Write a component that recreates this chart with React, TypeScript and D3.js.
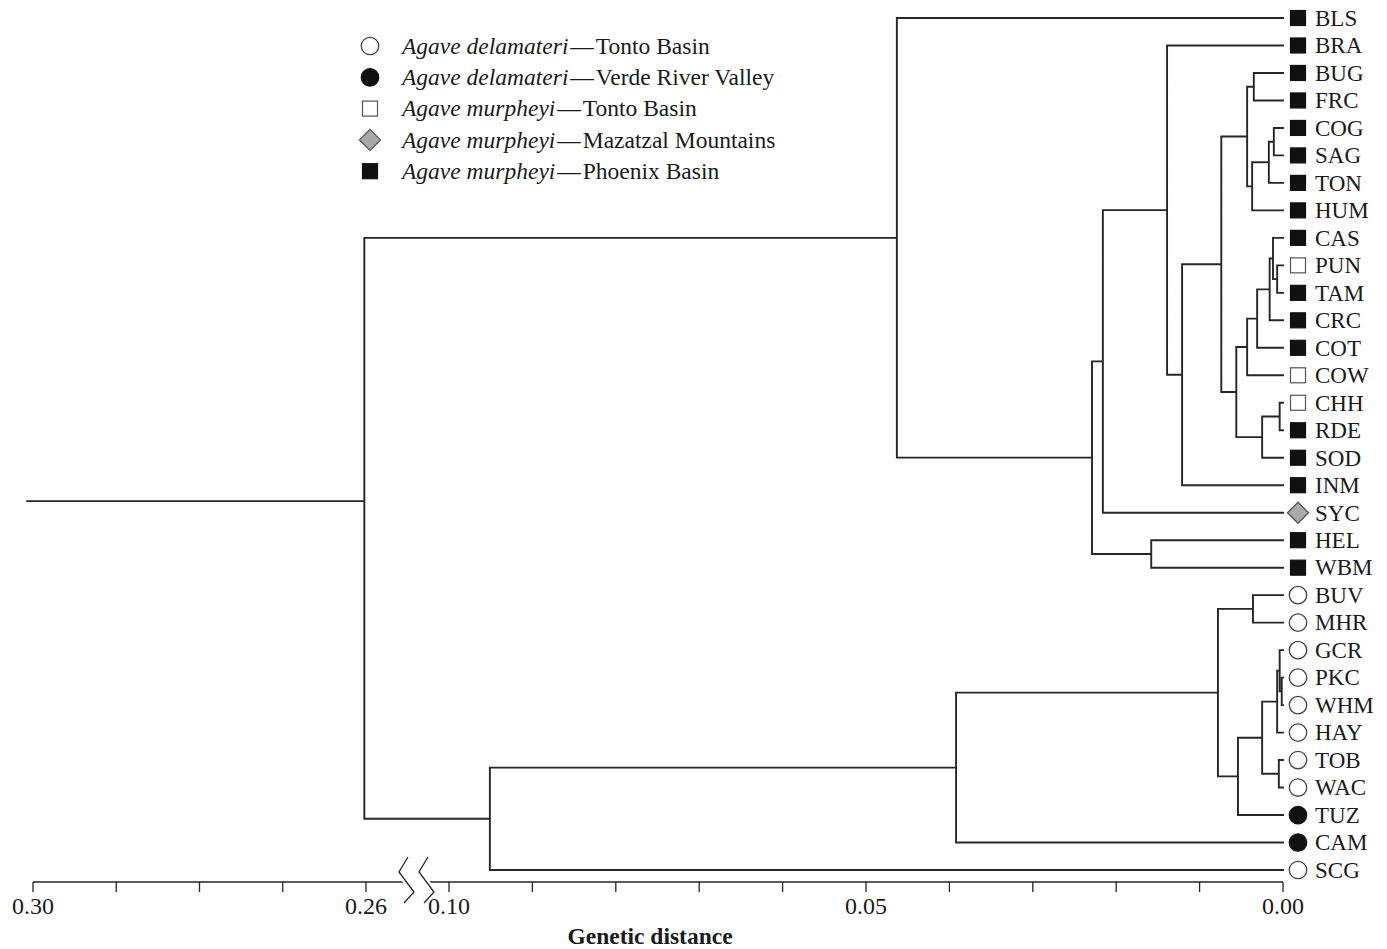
import React from 'react'
import * as d3 from 'd3'

// leaves, top to bottom, with their population group
const leaves = ['BLS', 'BRA', 'BUG', 'FRC', 'COG', 'SAG', 'TON', 'HUM', 'CAS', 'PUN', 'TAM', 'CRC', 'COT', 'COW', 'CHH', 'RDE', 'SOD', 'INM', 'SYC', 'HEL', 'WBM', 'BUV', 'MHR', 'GCR', 'PKC', 'WHM', 'HAY', 'TOB', 'WAC', 'TUZ', 'CAM', 'SCG']
const groups = ['mp', 'mp', 'mp', 'mp', 'mp', 'mp', 'mp', 'mp', 'mp', 'mt', 'mp', 'mp', 'mp', 'mt', 'mt', 'mp', 'mp', 'mp', 'mm', 'mp', 'mp', 'dt', 'dt', 'dt', 'dt', 'dt', 'dt', 'dt', 'dt', 'dv', 'dv', 'dt']

// linkage table: [id, left child, right child, genetic distance]
const merges: [string, string, string, number][] = [
  ['m1', 'COG', 'SAG', 0.0011],
  ['m2', 'm1', 'TON', 0.0017],
  ['m3', 'm2', 'HUM', 0.0037],
  ['m4', 'BUG', 'FRC', 0.0035],
  ['m5', 'm4', 'm3', 0.0043],
  ['m6', 'PUN', 'TAM', 0.0007],
  ['m7', 'CAS', 'm6', 0.0012],
  ['m8', 'm7', 'CRC', 0.0016],
  ['m9', 'm8', 'COT', 0.0031],
  ['m10', 'm9', 'COW', 0.0043],
  ['m11', 'CHH', 'RDE', 0.0004],
  ['m12', 'm11', 'SOD', 0.0025],
  ['m13', 'm10', 'm12', 0.0056],
  ['m14', 'm5', 'm13', 0.0074],
  ['m15', 'm14', 'INM', 0.0121],
  ['m16', 'BRA', 'm15', 0.0139],
  ['m17', 'm16', 'SYC', 0.0216],
  ['m18', 'HEL', 'WBM', 0.0158],
  ['m19', 'm17', 'm18', 0.0229],
  ['m20', 'BLS', 'm19', 0.0463],
  ['m21', 'BUV', 'MHR', 0.0036],
  ['m22', 'PKC', 'WHM', 0.00015],
  ['m23', 'GCR', 'm22', 0.0004],
  ['m24', 'm23', 'HAY', 0.0007],
  ['m25', 'TOB', 'WAC', 0.0005],
  ['m26', 'm24', 'm25', 0.0025],
  ['m27', 'm26', 'TUZ', 0.0054],
  ['m28', 'm21', 'm27', 0.0078],
  ['m29', 'm28', 'CAM', 0.0392],
  ['m30', 'm29', 'SCG', 0.0951],
  ['m31', 'm20', 'm30', 0.2602],
]
const rootStem = 0.3007
const rootStemRow = 17.58 // root stem sits between INM and SYC in the figure

const leftTicks = [0.30, 0.29, 0.28, 0.27, 0.26]
const rightTicks = [0.10, 0.09, 0.08, 0.07, 0.06, 0.05, 0.04, 0.03, 0.02, 0.01, 0.00]
const labelledTicks = [0.30, 0.26, 0.10, 0.05, 0.00]

const legendItems = [
  { group: 'dt', species: 'Agave delamateri', place: 'Tonto Basin' },
  { group: 'dv', species: 'Agave delamateri', place: 'Verde River Valley' },
  { group: 'mt', species: 'Agave murpheyi', place: 'Tonto Basin' },
  { group: 'mm', species: 'Agave murpheyi', place: 'Mazatzal Mountains' },
  { group: 'mp', species: 'Agave murpheyi', place: 'Phoenix Basin' },
]

const FONT = '"Liberation Serif", "Times New Roman", serif'
const INK = '#262626'
const AXIS_Y = 882

const xLeft = d3.scaleLinear().domain([0.30, 0.26]).range([33, 366])
const xRight = d3.scaleLinear().domain([0.10, 0]).range([449, 1283])
const xd = (d: number) => (d >= 0.2 ? xLeft(d) : xRight(d))
const yLeaf = d3.scalePoint<string>().domain(leaves).range([18, 870])
const yRow = d3.scaleLinear().domain([0, leaves.length - 1]).range([18, 870])

function Marker({ group, cx, cy }: { group: string; cx: number; cy: number }) {
  if (group === 'dt' || group === 'dv') {
    return <circle cx={cx} cy={cy} r={8.7} fill={group === 'dv' ? '#111' : '#fff'} stroke={group === 'dv' ? '#111' : '#444'} strokeWidth={1.3} />
  }
  if (group === 'mm') {
    const r = 10.5
    return <path d={`M${cx},${cy - r}L${cx + r},${cy}L${cx},${cy + r}L${cx - r},${cy}Z`} fill="#a9a9a9" stroke="#555" strokeWidth={1.3} />
  }
  const s = 15
  return <rect x={cx - s / 2} y={cy - s / 2} width={s} height={s} fill={group === 'mp' ? '#111' : '#fff'} stroke={group === 'mp' ? '#111' : '#555'} strokeWidth={1.2} />
}

function buildTree() {
  const nodes: Record<string, { id: string; h: number; y: number; kids: string[] }> = {}
  leaves.forEach((name) => { nodes[name] = { id: name, h: 0, y: yLeaf(name)!, kids: [] } })
  merges.forEach(([id, a, b, h]) => {
    nodes[id] = { id, h, y: (nodes[a].y + nodes[b].y) / 2, kids: [a, b] }
  })
  return nodes
}

export default function App() {
  const nodes = buildTree()
  const segs: string[] = []
  merges.forEach(([id]) => {
    const n = nodes[id]
    const x = xd(n.h)
    const ys = n.kids.map((k) => nodes[k].y)
    segs.push(`M${x},${d3.min(ys)}V${d3.max(ys)}`)
    n.kids.forEach((k) => { segs.push(`M${x},${nodes[k].y}H${xd(nodes[k].h)}`) })
  })
  const root = nodes[merges[merges.length - 1][0]]
  segs.push(`M${xd(rootStem)},${yRow(rootStemRow)}H${xd(root.h)}`)

  const zig = (x: number) => `M${x + 8},857L${x - 1},872L${x + 14},892L${x + 4},903`

  return (
    <svg width={1387} height={949} style={{ position: 'absolute', left: 0, top: 0, background: '#fff' }} fontFamily={FONT}>
      <path d={segs.join('')} fill="none" stroke={INK} strokeWidth={1.9} strokeLinecap="square" />

      {leaves.map((name, i) => (
        <g key={name}>
          <Marker group={groups[i]} cx={1298} cy={yLeaf(name)!} />
          <text x={1315} y={yLeaf(name)! + 7.8} fontSize={23} fill="#1a1a1a">{name}</text>
        </g>
      ))}

      {/* axis with break */}
      <path d={`M${xLeft(0.30)},${AXIS_Y}H404M427,${AXIS_Y}H${xRight(0)}`} stroke={INK} strokeWidth={1.4} fill="none" />
      {leftTicks.map((t) => <line key={'l' + t} x1={xLeft(t)} x2={xLeft(t)} y1={AXIS_Y} y2={AXIS_Y + 10} stroke={INK} strokeWidth={1.3} />)}
      {rightTicks.map((t) => <line key={'r' + t} x1={xRight(t)} x2={xRight(t)} y1={AXIS_Y} y2={AXIS_Y + 10} stroke={INK} strokeWidth={1.3} />)}
      {labelledTicks.map((t) => (
        <text key={'t' + t} x={xd(t)} y={914} textAnchor="middle" fontSize={24} fill="#1a1a1a">{d3.format('.2f')(t)}</text>
      ))}
      <path d={zig(400) + zig(420)} stroke="#fff" strokeWidth={6} fill="none" />
      <path d={zig(400) + zig(420)} stroke={INK} strokeWidth={1.3} fill="none" />
      <text x={650} y={944} textAnchor="middle" fontSize={23.5} fontWeight="bold" fill="#1a1a1a">Genetic distance</text>

      {/* legend */}
      {legendItems.map((it, i) => {
        const cy = 46 + i * 31.3
        return (
          <g key={i}>
            <Marker group={it.group} cx={370} cy={cy} />
            <text x={402} y={cy + 7.8} fontSize={23.5} fill="#1a1a1a">
              <tspan fontStyle="italic">{it.species}</tspan>
              <tspan>{'\u200A\u2014\u200A' + it.place}</tspan>
            </text>
          </g>
        )
      })}
    </svg>
  )
}
